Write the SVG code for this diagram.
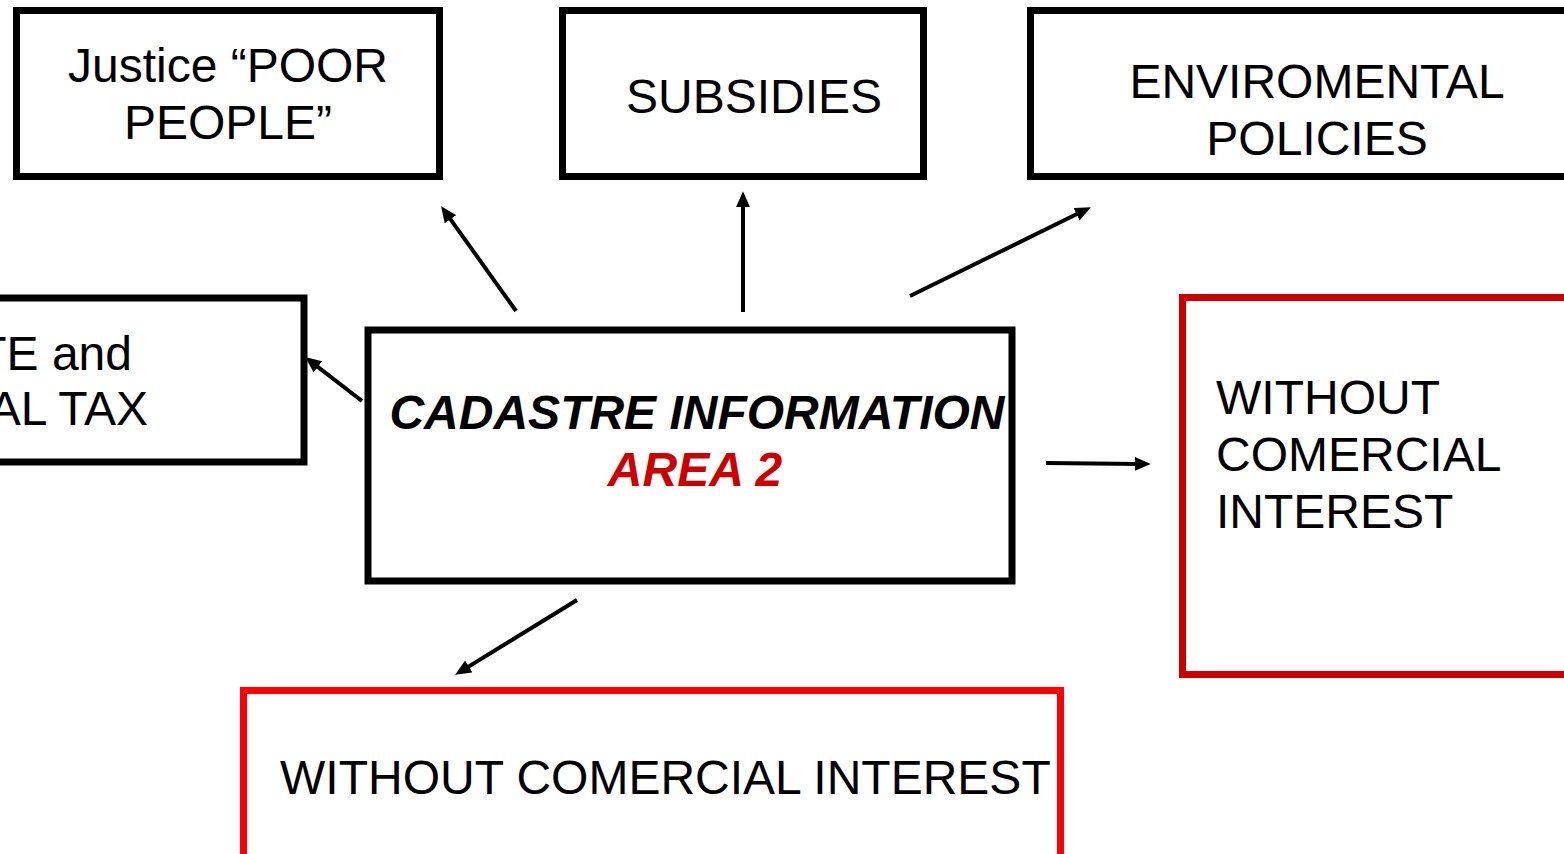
<svg xmlns="http://www.w3.org/2000/svg" width="1564" height="854" viewBox="0 0 1564 854">
<style>
.box{fill:#fff;stroke:#000;stroke-width:7}
.red1{fill:#fff;stroke:#CC0000;stroke-width:7}
.red2{fill:#fff;stroke:#FF0000;stroke-width:7}
text{font-family:"Liberation Sans",Arial,sans-serif;font-size:48px;fill:#000}
.c{text-anchor:middle}
.bi{font-weight:bold;font-style:italic}
.conn line{stroke:#000;stroke-width:4;marker-end:url(#ah)}
</style>
<defs>
<marker id="ah" viewBox="0 0 16 14" markerUnits="userSpaceOnUse" markerWidth="16" markerHeight="14" refX="5" refY="7" orient="auto">
<path d="M0,0 L16,7 L0,14 z" fill="#000"/>
</marker>
</defs>
<rect width="1564" height="854" fill="#fff"/>
<g id="justice">
<rect class="box" x="16.5" y="10.5" width="423" height="166"/>
<text class="c" x="228" y="82">Justice “POOR</text>
<text class="c" x="228" y="139">PEOPLE”</text>
</g>
<g id="subsidies">
<rect class="box" x="562.5" y="10.5" width="361" height="166"/>
<text class="c" x="754" y="113">SUBSIDIES</text>
</g>
<g id="environmental">
<rect class="box" x="1030.5" y="10.5" width="560" height="166"/>
<text class="c" x="1317" y="98">ENVIROMENTAL</text>
<text class="c" x="1317" y="155">POLICIES</text>
</g>
<g id="tax">
<rect class="box" x="-20" y="298" width="324" height="164"/>
<text x="132" y="370" text-anchor="end">TE and</text>
<text x="148" y="425" text-anchor="end">AL TAX</text>
</g>
<g id="cadastre">
<rect class="box" x="368" y="330" width="644" height="251"/>
<text class="c bi" x="697" y="429">CADASTRE INFORMATION</text>
<text class="c bi" x="695" y="486" style="fill:#CC0000">AREA 2</text>
</g>
<g id="without-right">
<rect class="red1" x="1182.5" y="297.5" width="420" height="377"/>
<text x="1216" y="414">WITHOUT</text>
<text x="1216" y="471">COMERCIAL</text>
<text x="1216" y="528">INTEREST</text>
</g>
<g id="without-bottom">
<rect class="red2" x="243.5" y="690.5" width="817" height="200"/>
<text x="280" y="794">WITHOUT COMERCIAL INTEREST</text>
</g>
<g id="connectors" class="conn">
<line x1="516" y1="311" x2="447.5" y2="215.1"/>
<line x1="743" y1="312" x2="743" y2="202.2"/>
<line x1="910" y1="296" x2="1081" y2="212"/>
<line x1="362" y1="401" x2="313.9" y2="363.8"/>
<line x1="1046" y1="463" x2="1139.8" y2="464"/>
<line x1="577" y1="600" x2="464.5" y2="669.1"/>
</g>
</svg>
